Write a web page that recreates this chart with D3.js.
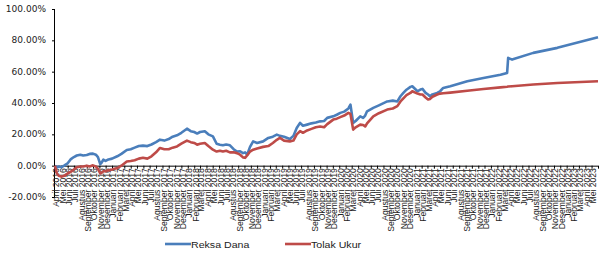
<!DOCTYPE html>
<html><head><meta charset="utf-8">
<script src="https://cdn.jsdelivr.net/npm/d3@7"></script>
<style>body{margin:0;background:#fff}svg{display:block}</style>
</head><body>
<svg id="c" width="599" height="253"></svg>
<script>
const dates = ["2016-04-01","2016-04-10","2016-04-20","2016-05-01","2016-05-15","2016-06-01","2016-06-15","2016-07-01","2016-07-15","2016-08-01","2016-08-15","2016-09-01","2016-09-15","2016-10-01","2016-10-15","2016-10-25","2016-11-05","2016-11-12","2016-11-20","2016-12-01","2016-12-15","2017-01-01","2017-01-26","2017-02-15","2017-03-13","2017-04-01","2017-04-20","2017-05-10","2017-05-30","2017-06-20","2017-07-10","2017-08-01","2017-08-20","2017-09-10","2017-10-01","2017-10-20","2017-11-10","2017-12-01","2017-12-28","2018-01-15","2018-02-01","2018-02-15","2018-03-01","2018-03-24","2018-04-10","2018-05-02","2018-05-20","2018-06-05","2018-06-19","2018-07-05","2018-07-23","2018-08-10","2018-08-26","2018-09-10","2018-09-24","2018-10-04","2018-10-14","2018-10-28","2018-11-12","2018-12-01","2018-12-30","2019-01-24","2019-02-15","2019-03-06","2019-03-21","2019-04-10","2019-05-08","2019-05-25","2019-06-10","2019-06-26","2019-07-10","2019-07-30","2019-08-20","2019-09-10","2019-10-01","2019-10-20","2019-11-04","2019-12-03","2019-12-20","2020-01-06","2020-01-25","2020-02-14","2020-02-24","2020-03-08","2020-03-20","2020-04-11","2020-04-25","2020-05-05","2020-05-14","2020-06-13","2020-07-10","2020-08-19","2020-09-15","2020-10-07","2020-10-22","2020-11-05","2020-11-20","2020-12-09","2020-12-18","2021-01-12","2021-01-26","2021-02-05","2021-02-20","2021-03-04","2021-03-13","2021-03-25","2021-04-17","2021-05-01","2021-05-16","2021-06-19","2021-09-09","2021-11-26","2022-02-16","2022-03-20","2022-03-25","2022-04-13","2022-07-24","2022-11-17","2023-06-01"];
const reksaDana = [0,-1,-0.5,-1,0,1.5,4,5.5,6.5,7,6.5,6.8,7.5,7.7,7,5.5,1,2,3.8,3,4,4.5,6,7.5,10,10.5,11.5,12.5,12.8,12.5,13.5,15,16.6,16,17,18.5,19.4,21,23.6,22,21.5,20.5,21.5,22,20,18.7,14,13.4,13,13.5,13,10.5,9,9.2,8,8.5,7,12,15.5,14.5,15.5,17.7,18.5,19.8,19,18.5,17,19,24,27.3,25.5,26.2,27,27.5,28.3,28.5,30.5,31.5,32.5,33.7,34.5,36.5,39,27.3,28.5,31.5,30.5,32,34.7,36.9,38.5,41,41.5,41,44.3,46.4,48.5,50.3,50.7,47.5,48.6,49,46.5,45.4,44.3,45.5,46.4,47.5,49.6,50.7,53.9,56,58,59.2,68.8,67.7,72,75.2,82];
const tolakUkur = [0,-5,-6.5,-7,-6.5,-5,-4,-2.5,-1,-0.5,-0.5,0,-0.5,0.2,-0.5,-2,-5,-4.5,-3.6,-3.5,-3,-2.5,-1.5,0,2.7,3,3.5,4.5,5,4.5,6,8.5,11.3,10.5,10.5,11.5,12.3,14,16,15,14.5,13.4,14,14.5,12.5,10.2,9,9.5,9,9.5,8.5,8.5,8,7,5.3,5,6.5,9,10.2,11,12,12.5,14.5,16.5,17.7,16,15.5,16,20,22,21,22.5,23.5,24.5,25,24.5,26.5,29.4,30,31,32,33.7,33,23,24.5,26.2,26,25,27,31.5,33.5,35.8,36.5,38,41,43,45,46.4,47.5,46,45.4,45.4,43.5,42.2,42.6,44,45.4,46,46.2,46.6,47.8,48.9,50,50.4,50.5,50.7,51.8,52.8,53.9];
const monthNames = ["Januari","Februari","Maret","April","Mei","Juni","Juli","Agustus","September","Oktober","November","Desember"];
const yTicks = [-20,0,20,40,60,80,100];
const seriesNames = ["Reksa Dana","Tolak Ukur"];
const colors = ["#4A7EBB","#BE4B48"];

const parse = d3.timeParse("%Y-%m-%d");
const svg = d3.select("#c");
const L = 55, R = 598, T = 9, B = 197;
const x = d3.scaleTime().domain([parse("2016-04-01"), parse("2023-06-01")]).range([L, R]);
const y = d3.scaleLinear().domain([-20, 100]).range([B, T]);

// y axis
const ya = svg.append("g").attr("transform", `translate(${L},0)`)
  .call(d3.axisLeft(y).tickValues(yTicks).tickSize(3).tickFormat(d => d.toFixed(2) + "%"));
ya.select(".domain").attr("stroke", "#000").attr("stroke-width", 1).attr("d", `M-0.5,${T}V${B}`);
ya.selectAll(".tick line").attr("stroke", "#000");
ya.selectAll(".tick text").attr("font-family", "DejaVu Sans").attr("font-size", 8).attr("fill", "#222")
  .attr("x", -8).attr("text-anchor", "end")
  .attr("transform", function(){ return null; });
ya.selectAll(".tick text").each(function(){
  const t = d3.select(this);
  t.attr("transform", "translate(-47,0) scale(1.13,1) translate(41.6,0)");
});

// x axis
const months = d3.timeMonth.range(parse("2016-04-01"), parse("2023-06-02"));
const xa = svg.append("g").attr("transform", `translate(0,${y(0)})`)
  .call(d3.axisBottom(x).tickValues(months).tickSize(3).tickFormat(""));
xa.select(".domain").attr("stroke", "#000").attr("d", `M${L},0.5H${R}`);
xa.selectAll(".tick line").attr("stroke", "#000");
const labelMonths = months.slice(0, months.length - 1);
svg.append("g").selectAll("text").data(labelMonths).join("text")
  .attr("transform", d => `translate(${x(d) + 1},${y(0) + 2.5}) scale(1.12,1) rotate(-90)`)
  .attr("text-anchor", "end").attr("dy", "0.35em")
  .attr("font-family", "Liberation Sans").attr("font-size", 8.6).attr("fill", "#222")
  .text(d => monthNames[d.getMonth()] + " " + d.getFullYear());

// lines
const line = d3.line().x(d => x(d[0])).y(d => y(d[1]));
const pd = dates.map(parse);
[reksaDana, tolakUkur].forEach((vals, i) => {
  svg.append("path").datum(pd.map((d, j) => [d, vals[j]]))
    .attr("fill", "none").attr("stroke", colors[i]).attr("stroke-width", 2.6)
    .attr("stroke-linejoin", "round").attr("d", line);
});
// redraw blue on top? reference shows red over blue where they meet
svg.selectAll("path").filter(function(){ return this.getAttribute("stroke") === colors[1]; }).raise();

// legend
const lg = [{x0: 165, name: seriesNames[0], c: colors[0]}, {x0: 285, name: seriesNames[1], c: colors[1]}];
lg.forEach(d => {
  svg.append("line").attr("x1", d.x0).attr("x2", d.x0 + 26).attr("y1", 244).attr("y2", 244)
    .attr("stroke", d.c).attr("stroke-width", 2.6);
  svg.append("text").attr("transform", `translate(${d.x0 + 26},247.5) scale(1.18,1)`)
    .attr("font-family", "Liberation Sans").attr("font-size", 9).attr("fill", "#222").text(d.name);
});
</script>
</body></html>
